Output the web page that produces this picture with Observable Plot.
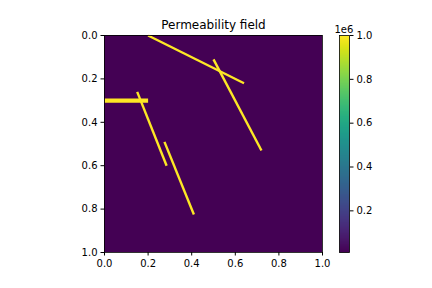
<!DOCTYPE html>
<html><head><meta charset="utf-8">
<script src="https://cdn.jsdelivr.net/npm/d3@7"></script>
<script src="https://cdn.jsdelivr.net/npm/@observablehq/plot@0.6"></script>
<style>
body{margin:0;background:#fff;}
#fig{position:relative;width:432px;height:288px;font-family:"DejaVu Sans",sans-serif;}
#fig svg{position:absolute;left:0;top:0;overflow:visible;}
</style></head>
<body><div id="fig"></div>
<script>
// fracture segments (x1,y1)-(x2,y2) in domain units; value = permeability
const fx1 = [0.20, 0.50, 0.00, 0.15, 0.275];
const fy1 = [0.00, 0.11, 0.30, 0.26, 0.49];
const fx2 = [0.64, 0.72, 0.20, 0.285, 0.41];
const fy2 = [0.22, 0.53, 0.30, 0.60, 0.825];
const fWidth = [2.4, 2.4, 4.2, 2.4, 2.4];
const fValue = [1e6, 1e6, 1e6, 1e6, 1e6];
const background = 1e4;
const axisTicks = [0, 0.2, 0.4, 0.6, 0.8, 1.0];
const cbTicks = [0.2e6, 0.4e6, 0.6e6, 0.8e6, 1.0e6];
const vmin = 1e4, vmax = 1e6;
const title = "Permeability field";

const fractures = fx1.map((_, i) => ({x1: fx1[i], y1: fy1[i], x2: fx2[i], y2: fy2[i], w: fWidth[i], v: fValue[i]}));
const color = {type: "linear", scheme: "viridis", domain: [vmin, vmax]};
const fmt = d3.format(".1f");

const main = Plot.plot({
  width: 432, height: 288,
  marginLeft: 104, marginRight: 110, marginTop: 35, marginBottom: 36,
  style: {fontFamily: "DejaVu Sans, sans-serif", fontSize: "10px", color: "black", background: "transparent"},
  x: {domain: [0, 1]},
  y: {domain: [0, 1], reverse: true},
  color,
  marks: [
    Plot.rect([{v: background}], {x1: 0, x2: 1, y1: 0, y2: 1, fill: "v"}),
    Plot.link(fractures, {x1: "x1", y1: "y1", x2: "x2", y2: "y2", stroke: "v", strokeWidth: "w", strokeLinecap: "butt"}),
    Plot.frame({stroke: "black", strokeWidth: 0.8}),
    Plot.axisX({ticks: axisTicks, tickFormat: fmt, tickSize: 3.5, tickPadding: 3.5, label: null, fontSize: 10}),
    Plot.axisY({ticks: axisTicks, tickFormat: fmt, tickSize: 3.5, tickPadding: 3.5, label: null, fontSize: 10}),
    Plot.text([title], {frameAnchor: "top", text: d => d, dy: -10.5, fontSize: 12, lineAnchor: "middle"})
  ]
});

const cb = Plot.plot({
  width: 432, height: 288,
  marginLeft: 339, marginRight: 83, marginTop: 35, marginBottom: 36,
  style: {fontFamily: "DejaVu Sans, sans-serif", fontSize: "10px", color: "black", background: "transparent"},
  x: {domain: [0, 1], axis: null},
  y: {domain: [vmin, vmax]},
  color,
  marks: [
    Plot.raster({fill: (x, y) => y, x1: 0, x2: 1, y1: vmin, y2: vmax, width: 2, height: 256, imageRendering: "auto"}),
    Plot.frame({stroke: "black", strokeWidth: 0.8}),
    Plot.axisY({anchor: "right", ticks: cbTicks, tickFormat: d => fmt(d / 1e6), tickSize: 3.5, tickPadding: 3.5, label: null, fontSize: 10}),
    Plot.text(["1e6"], {frameAnchor: "top-left", text: d => d, dx: -5, dy: -6, fontSize: 10, lineAnchor: "middle", textAnchor: "start"})
  ]
});

const fig = document.getElementById("fig");
fig.appendChild(main);
fig.appendChild(cb);
</script></body></html>
